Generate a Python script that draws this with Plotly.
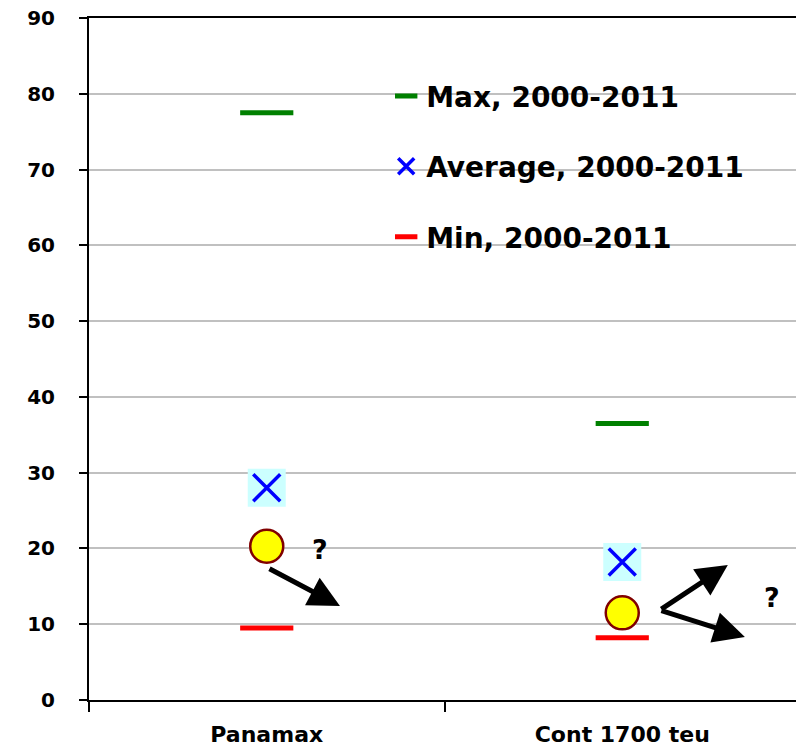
import plotly.graph_objects as go

categories = ["Panamax", "Cont 1700 teu"]
max_vals = [77.5, 36.5]
avg_vals = [28.0, 18.2]
min_vals = [9.5, 8.2]
current_vals = [20.3, 11.5]
y_ticks = [0, 10, 20, 30, 40, 50, 60, 70, 80, 90]

FONT = "DejaVu Sans"

fig = go.Figure()

fig.add_trace(go.Scatter(
    x=categories, y=max_vals, mode="markers", name="Max, 2000-2011",
    legendgroup="max", legendrank=1,
    marker=dict(symbol="line-ew", size=38, color="#008000",
                line=dict(color="#008000", width=5)),
))
fig.add_trace(go.Scatter(
    x=categories, y=avg_vals, mode="markers", showlegend=False,
    hoverinfo="skip",
    marker=dict(symbol="square", size=38, color="#ccffff",
                line=dict(width=0)),
))
fig.add_trace(go.Scatter(
    x=categories, y=avg_vals, mode="markers", name="Average, 2000-2011",
    legendgroup="avg", legendrank=2,
    marker=dict(symbol="x-thin", size=27, color="#0000ff",
                line=dict(color="#0000ff", width=3.5)),
))
fig.add_trace(go.Scatter(
    x=categories, y=min_vals, mode="markers", name="Min, 2000-2011",
    legendgroup="min", legendrank=3,
    marker=dict(symbol="line-ew", size=38, color="#ff0000",
                line=dict(color="#ff0000", width=5)),
))
fig.add_trace(go.Scatter(
    x=categories, y=current_vals, mode="markers", showlegend=False,
    marker=dict(symbol="circle", size=33, color="#ffff00",
                line=dict(color="#800000", width=2.5)),
))

arrow_common = dict(showarrow=True, arrowhead=2, arrowsize=1.25, arrowwidth=5,
                    arrowcolor="black", text="", axref="pixel", ayref="pixel",
                    xref="x", yref="y")
fig.add_annotation(x=0.206, y=12.4, ax=-72, ay=-38, **arrow_common)
fig.add_annotation(x=1.297, y=17.8, ax=-68, ay=45, **arrow_common)
fig.add_annotation(x=1.345, y=8.3, ax=-85, ay=-27, **arrow_common)

q_font = dict(family=FONT, size=27, color="black", weight="bold")
fig.add_annotation(x=0.15, y=19.8, text="?", showarrow=False, font=q_font)
fig.add_annotation(x=1.421, y=13.5, text="?", showarrow=False, font=q_font)

fig.update_layout(
    width=804, height=749,
    margin=dict(l=81, r=12, t=10, b=57),
    paper_bgcolor="white", plot_bgcolor="white",
    showlegend=True,
    legend=dict(
        x=0.418, y=0.922, xanchor="left", yanchor="top",
        bgcolor="rgba(0,0,0,0)", borderwidth=0,
        tracegroupgap=31,
        font=dict(family=FONT, size=28, color="black", weight="bold"),
    ),
    xaxis=dict(
        type="category", range=[-0.5, 1.5], tickson="boundaries",
        automargin=False, ticklabeloverflow="allow",
        showgrid=False, showline=True, linecolor="black", linewidth=2,
        mirror=True, ticks="outside", ticklen=10, tickwidth=2,
        tickcolor="black", ticklabelstandoff=14,
        tickfont=dict(family=FONT, size=22, color="black", weight="bold"),
        zeroline=False,
    ),
    yaxis=dict(
        range=[0, 90], tickvals=y_ticks, showgrid=True, automargin=False,
        ticklabeloverflow="allow",
        gridcolor="#c0c0c0", gridwidth=2,
        showline=True, linecolor="black", linewidth=2, mirror=True,
        ticks="outside", ticklen=8, tickwidth=2, tickcolor="black",
        ticklabelstandoff=20,
        tickfont=dict(family=FONT, size=20, color="black", weight="bold"),
        zeroline=False,
    ),
)

fig.write_html("out.html")
